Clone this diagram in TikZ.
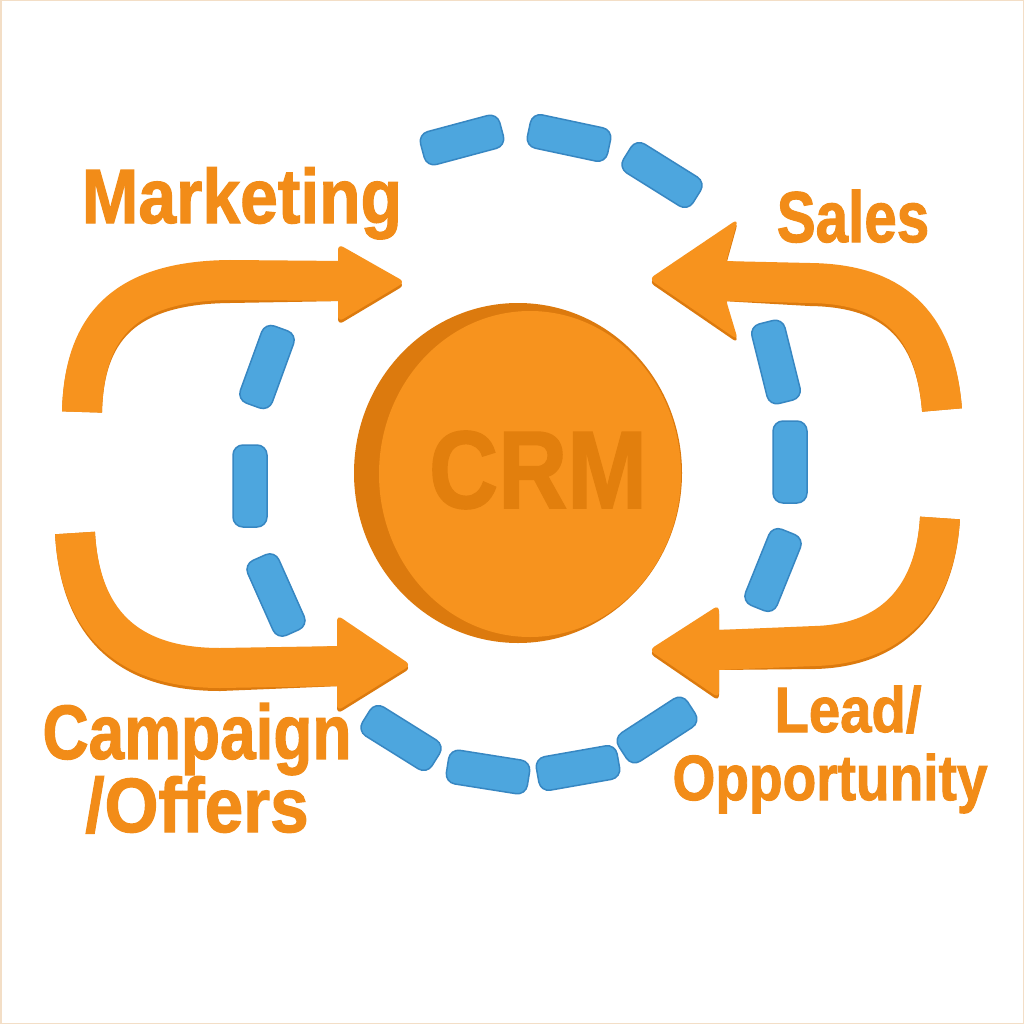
\documentclass[tikz,border=0pt]{standalone}
\usepackage{fontspec}
\usepackage{graphicx}
\newfontfamily\lbl{Liberation Sans}[BoldFeatures={FakeBold=1.6}]
\usetikzlibrary{shapes.geometric}
\definecolor{org}{HTML}{F7931E}
\definecolor{orgdark}{HTML}{DC7A0E}
\definecolor{orgtext}{HTML}{F28C18}
\definecolor{crmtxt}{HTML}{E27F0D}
\definecolor{blu}{HTML}{4DA6DE}
\definecolor{bludark}{HTML}{3787C2}
\definecolor{framecol}{HTML}{F3DEC6}
\begin{document}
\begin{tikzpicture}[x=1pt,y=-1pt,
  shaft/.style={line width=40pt, draw=org},
  shaftshadow/.style={line width=40pt, draw=orgdark},
  headfill/.style={fill=org, rounded corners=6pt},
  headshadow/.style={fill=orgdark, rounded corners=6pt},
  dashbox/.style={rectangle, rounded corners=10pt, minimum width=82pt, minimum height=34pt, fill=blu, draw=bludark, line width=1.5pt, inner sep=0pt},
  lab/.style={text=orgtext, inner sep=0pt},
]
\useasboundingbox (0,0) rectangle (1024,1024);
\fill[white] (0,0) rectangle (1024,1024);
\draw[framecol, line width=3pt] (0,0) rectangle (1024,1024);

% blue dashed ring
\node[dashbox, rotate=15]  (d1)  at (462,140) {};
\node[dashbox, rotate=-12] (d2)  at (569,138) {};
\node[dashbox, rotate=-32] (d3)  at (662,175) {};
\node[dashbox, rotate=70]  (d4)  at (267,367) {};
\node[dashbox, rotate=90]  (d5)  at (250,486) {};
\node[dashbox, rotate=114] (d6)  at (276,595) {};
\node[dashbox, rotate=-32] (d7)  at (401,738) {};
\node[dashbox, rotate=-9]  (d8)  at (488,772) {};
\node[dashbox, rotate=10]  (d9)  at (578,768) {};
\node[dashbox, rotate=33]  (d10) at (657,730) {};
\node[dashbox, rotate=104] (d11) at (776,362) {};
\node[dashbox, rotate=90]  (d12) at (790,462) {};
\node[dashbox, rotate=68]  (d13) at (773,570) {};

% arrow end points
\coordinate (tlS) at (82,412);  \coordinate (tlE) at (345,281);
\coordinate (blS) at (75,533);  \coordinate (blE) at (342,666);
\coordinate (trS) at (942,410); \coordinate (trE) at (722,281);
\coordinate (brS) at (940,518); \coordinate (brE) at (718,650);

% shadows
\begin{scope}[shift={(0,3)}]
  \draw[shaftshadow] (tlS) .. controls (84,330) and (120,281) .. (230,280) -- (tlE);
  \fill[headshadow] (338,244) -- (405,282) -- (338,322) -- cycle;
  \draw[shaftshadow] (blS) .. controls (80,620) and (125,668) .. (220,668) -- (blE);
  \fill[headshadow] (337,615) -- (411,665) -- (337,711) -- cycle;
  \draw[shaftshadow] (trS) .. controls (935,320) and (890,284) .. (810,283) -- (trE);
  \fill[headshadow] (649,279) -- (738,219) -- (726,262) -- (726,300) -- (738,340) -- cycle;
  \draw[shaftshadow] (brS) .. controls (935,600) and (890,644) .. (815,646) -- (brE);
  \fill[headshadow] (649,650) -- (719,605) -- (719,698) -- cycle;
\end{scope}

% arrows
\draw[shaft] (tlS) .. controls (84,330) and (120,281) .. (230,280) -- (tlE);
\fill[headfill] (338,244) -- (405,282) -- (338,322) -- cycle;
\draw[shaft] (blS) .. controls (80,620) and (125,668) .. (220,668) -- (blE);
\fill[headfill] (337,615) -- (411,665) -- (337,711) -- cycle;
\draw[shaft] (trS) .. controls (935,320) and (890,284) .. (810,283) -- (trE);
\fill[headfill] (649,279) -- (738,219) -- (726,262) -- (726,300) -- (738,340) -- cycle;
\draw[shaft] (brS) .. controls (935,600) and (890,644) .. (815,646) -- (brE);
\fill[headfill] (649,650) -- (719,605) -- (719,698) -- cycle;

% CRM disc
\node[ellipse, fill=orgdark, minimum width=328pt, minimum height=340pt, inner sep=0pt] (rim) at (518,473) {};
\node[ellipse, fill=org, minimum width=302pt, minimum height=326pt, inner sep=0pt] (face) at (530,474) {};
\node[text=crmtxt, inner sep=0pt, font=\lbl\bfseries\fontsize{110}{110}\selectfont] (crm) at (538,470) {\scalebox{0.87}[1]{CRM}};

% labels
\node[lab, anchor=base, font=\lbl\bfseries\fontsize{77}{77}\selectfont] (marketing) at (242,223) {\scalebox{0.88}[1]{Marketing}};
\node[lab, anchor=base, font=\lbl\bfseries\fontsize{72}{72}\selectfont] (sales) at (853,242) {\scalebox{0.81}[1]{Sales}};
\node[lab, anchor=base, align=center, font=\lbl\bfseries\fontsize{77}{65}\selectfont] (campaign) at (197,832) {\scalebox{0.83}[1]{Campaign}\\\scalebox{0.9}[1]{/Offers}};
\node[lab, anchor=base, align=center, font=\lbl\bfseries\fontsize{64}{68}\selectfont] (lead) at (830,800) {\hspace*{36pt}\scalebox{0.88}[1]{Lead/}\\\scalebox{0.86}[1]{Opportunity}};
\end{tikzpicture}
\end{document}
